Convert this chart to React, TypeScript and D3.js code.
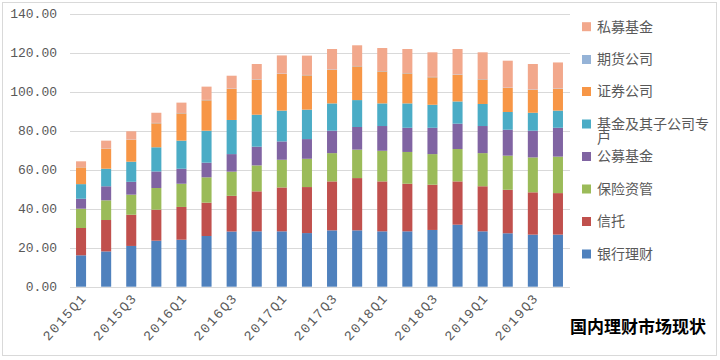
import React, { useRef, useEffect } from "react";
import * as d3 from "d3";

// quarters 2015Q1 .. 2019Q4
const quarters = [
  "2015Q1", "2015Q2", "2015Q3", "2015Q4",
  "2016Q1", "2016Q2", "2016Q3", "2016Q4",
  "2017Q1", "2017Q2", "2017Q3", "2017Q4",
  "2018Q1", "2018Q2", "2018Q3", "2018Q4",
  "2019Q1", "2019Q2", "2019Q3", "2019Q4",
];

// stack order, bottom to top
const seriesNames = ["银行理财", "信托", "保险资管", "公募基金", "基金及其子公司专户", "证券公司", "期货公司", "私募基金"];
const seriesColors = ["#4F81BD", "#C0504D", "#9BBB59", "#8064A2", "#4BACC6", "#F79646", "#95B3D7", "#F2A88C"];

const bank = [16.1, 18.1, 20.9, 23.6, 24.1, 26.0, 28.3, 28.4, 28.4, 27.5, 28.9, 28.9, 28.4, 28.4, 29.1, 31.8, 28.4, 27.4, 26.7, 26.7];
const trust = [14.0, 16.1, 16.0, 15.9, 16.8, 17.1, 18.3, 20.5, 22.5, 23.6, 25.1, 26.8, 25.6, 24.4, 23.2, 22.2, 23.1, 22.3, 21.7, 21.3];
const insurance = [9.9, 10.1, 10.3, 11.1, 11.9, 13.0, 12.4, 13.3, 14.2, 14.5, 14.5, 14.6, 15.7, 16.3, 15.7, 16.6, 17.0, 17.5, 17.9, 18.7];
const publicFund = [5.1, 7.2, 6.6, 8.5, 7.7, 7.5, 9.0, 9.6, 9.4, 10.1, 11.5, 11.6, 12.7, 12.4, 13.5, 13.0, 13.9, 13.3, 13.7, 14.8];
const fundSub = [7.5, 9.0, 10.3, 12.4, 14.4, 16.4, 17.5, 16.4, 15.8, 15.1, 14.0, 13.8, 11.6, 12.5, 11.8, 11.4, 11.3, 9.1, 9.2, 8.8];
const securities = [8.6, 10.3, 11.3, 12.3, 14.0, 15.6, 15.9, 18.0, 18.8, 17.6, 17.3, 17.3, 16.4, 15.4, 14.1, 13.7, 12.6, 12.3, 11.8, 11.2];
const futures = [0.1, 0.1, 0.1, 0.2, 0.2, 0.2, 0.2, 0.2, 0.2, 0.2, 0.2, 0.2, 0.2, 0.2, 0.2, 0.2, 0.2, 0.2, 0.2, 0.2];
const privateFund = [3.0, 4.0, 4.2, 5.2, 5.3, 6.8, 6.6, 7.8, 9.3, 9.9, 10.4, 10.6, 11.8, 12.3, 12.6, 13.0, 13.7, 13.8, 13.0, 13.3];

const seriesValues = [bank, trust, insurance, publicFund, fundSub, securities, futures, privateFund];
const yTicks = [0, 20, 40, 60, 80, 100, 120, 140];

export default function App() {
  const svgRef = useRef<SVGSVGElement>(null);

  useEffect(() => {
    const width = 720;
    const height = 360;

    const svg = d3.select(svgRef.current)
      .attr("width", width)
      .attr("height", height)
      .attr("viewBox", [0, 0, width, height]);

    svg.selectAll("*").remove();

    svg.append("rect")
      .attr("width", width).attr("height", height).attr("fill", "#fff");
    svg.append("rect")
      .attr("x", 2.5).attr("y", 2.5).attr("width", 714).attr("height", 353)
      .attr("fill", "none").attr("stroke", "#D9D9D9");

    const table = quarters.map((q, i) => {
      const row: any = { q };
      seriesNames.forEach((s, k) => (row[s] = seriesValues[k][i]));
      return row;
    });
    const stacked = d3.stack().keys(seriesNames)(table);

    const x = d3.scaleBand()
      .domain(quarters)
      .range([68.5, 570.5])
      .paddingInner(0.6)
      .paddingOuter(0.3);

    const y = d3.scaleLinear().domain([0, 140]).range([286.7, 13.7]);

    // grid
    svg.append("g")
      .selectAll("line")
      .data(yTicks)
      .join("line")
        .attr("x1", 70).attr("x2", 570)
        .attr("y1", d => Math.round(y(d)) + 0.5)
        .attr("y2", d => Math.round(y(d)) + 0.5)
        .attr("stroke", "#D9D9D9");

    // y labels
    svg.append("g")
      .selectAll("text")
      .data(yTicks)
      .join("text")
        .attr("x", 57)
        .attr("y", d => y(d))
        .attr("dy", "0.35em")
        .attr("text-anchor", "end")
        .attr("font-family", "Liberation Mono")
        .attr("font-size", 13)
        .attr("fill", "#595959")
        .text(d => d.toFixed(2));

    // bars
    svg.append("g")
      .selectAll("g")
      .data(stacked)
      .join("g")
        .attr("fill", (_, k) => seriesColors[k])
      .selectAll("rect")
      .data(d => d)
      .join("rect")
        .attr("x", d => x(d.data.q as string)!)
        .attr("y", d => y(d[1]))
        .attr("height", d => y(d[0]) - y(d[1]))
        .attr("width", x.bandwidth());

    // x labels, every other quarter
    svg.append("g")
      .selectAll("text")
      .data(quarters.filter((_, i) => i % 2 === 0))
      .join("text")
        .attr("transform", d => `translate(${x(d)! + x.bandwidth() / 2 + 3},${295}) rotate(-48)`)
        .attr("text-anchor", "end")
        .attr("dy", "0.35em")
        .attr("font-family", "Liberation Mono")
        .attr("font-size", 13.5)
        .attr("letter-spacing", 1.6)
        .attr("fill", "#595959")
        .text(d => d);

    // legend, top to bottom is reverse stack order
    const legendY = [26.7, 59.5, 91.5, 124, 156.5, 189, 221.5, 254];
    const legend = svg.append("g")
      .selectAll("g")
      .data(seriesNames.slice().reverse())
      .join("g")
        .attr("transform", (_, i) => `translate(582,${legendY[i]})`);
    legend.append("rect")
      .attr("x", 0).attr("y", -4.5).attr("width", 9).attr("height", 9)
      .attr("fill", d => seriesColors[seriesNames.indexOf(d)]);
    legend.each(function (d) {
      const g = d3.select(this);
      const lines = d === "基金及其子公司专户" ? ["基金及其子公司专", "户"] : [d];
      lines.forEach((line, j) => {
        g.append("text")
          .attr("x", 15)
          .attr("y", j * 14)
          .attr("dy", "0.35em")
          .attr("font-family", "Noto Sans CJK SC")
          .attr("font-size", 14)
          .attr("fill", "#595959")
          .text(line);
      });
    });

    svg.append("text")
      .attr("x", 706)
      .attr("y", 333)
      .attr("text-anchor", "end")
      .attr("font-family", "Noto Sans CJK SC")
      .attr("font-weight", "bold")
      .attr("font-size", 17)
      .attr("fill", "#000")
      .text("国内理财市场现状");
  }, []);

  return <svg ref={svgRef} style={{ position: "absolute", left: 0, top: 0 }}></svg>;
}
